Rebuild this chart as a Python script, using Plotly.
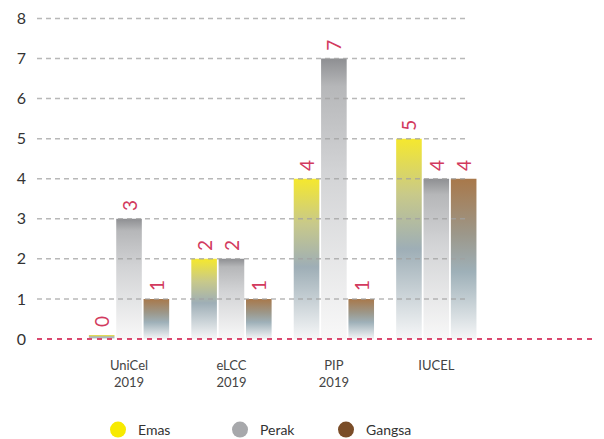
import plotly.graph_objects as go

# --- data ---
categories = ["UniCel<br>2019", "eLCC<br>2019", "PIP<br>2019", "IUCEL"]
series_names = ["Emas", "Perak", "Gangsa"]
emas = [0, 2, 4, 5]
perak = [3, 2, 7, 4]
gangsa = [1, 1, 1, 4]
y_ticks = [0, 1, 2, 3, 4, 5, 6, 7, 8]

# --- styling ---
legend_colors = {"Emas": "#f7ea00", "Perak": "#a7a8ab", "Gangsa": "#7a4d28"}
gradients = {
    "Emas": [[0, "#f6f7f8"], [0.45, "#9eaeb6"], [0.72, "#c8c98a"], [1, "#f5e82e"]],
    "Perak": [[0, "#f8f8f8"], [0.6, "#d2d3d5"], [0.9, "#b6b7b9"], [1, "#8e8f92"]],
    "Gangsa": [[0, "#f5f6f7"], [0.42, "#9eb0b8"], [0.65, "#9c988b"], [1, "#a8784a"]],
}
label_color = "#d23a5e"
font_family = "Lato, 'Open Sans', sans-serif"

# the page body adds an 8px margin, so the layout is shifted up/left by that much
PAGE_PAD = 8
H = 439

XMIN, XMAX = -0.8985, 4.7153
GRID_END = 3.29
BAR_W = 0.25
OFFSETS = {"Emas": -0.267, "Perak": 0.0, "Gangsa": 0.267}
MIN_VIS = 0.1  # a zero bar is still drawn as a thin strip

fig = go.Figure()

data = {"Emas": emas, "Perak": perak, "Gangsa": gangsa}
for name in series_names:
    vals = data[name]
    for i, v in enumerate(vals):
        h = max(v, MIN_VIS)
        xc = i + OFFSETS[name]
        x0, x1 = xc - BAR_W / 2, xc + BAR_W / 2
        fig.add_trace(go.Scatter(
            x=[x0, x1, x1, x0, x0], y=[0, 0, h, h, 0],
            mode="lines", fill="toself", line=dict(width=0),
            fillgradient=dict(type="vertical", colorscale=gradients[name]),
            hoverinfo="skip", showlegend=False,
        ))
    # transparent bars carry the rotated value labels
    fig.add_trace(go.Bar(
        x=list(range(len(vals))), y=[max(v, MIN_VIS) for v in vals],
        width=BAR_W, offset=OFFSETS[name] - BAR_W / 2,
        marker=dict(color="rgba(0,0,0,0)", line=dict(width=0)),
        text=["\u00a0" + str(v) for v in vals], textposition="outside", textangle=-90,
        textfont=dict(color=label_color, size=19, family=font_family),
        cliponaxis=False, showlegend=False, hoverinfo="skip",
    ))

# legend entries, one legend per item so they can be spaced like the original
legend_x = {"Emas": 90, "Perak": 212, "Gangsa": 318}
legend_keys = {"Emas": "legend", "Perak": "legend2", "Gangsa": "legend3"}
for name in series_names:
    fig.add_trace(go.Scatter(
        x=[None], y=[None], mode="markers", name=name,
        marker=dict(color=legend_colors[name], size=16, symbol="circle"),
        legend=legend_keys[name], showlegend=True,
    ))

legend_common = dict(
    orientation="h", xref="container", yref="container", yanchor="middle",
    y=(H - (430 - PAGE_PAD)) / H, bgcolor="rgba(0,0,0,0)",
    font=dict(size=14, color="#333333", family=font_family),
)

shapes = []
for t in y_ticks[1:]:
    shapes.append(dict(type="line", xref="x", yref="y", x0=XMIN, x1=GRID_END, y0=t, y1=t,
                       line=dict(color="rgba(160,160,160,0.75)", width=1.5, dash="5px,4px"),
                       layer="above"))
shapes.append(dict(type="line", xref="paper", yref="y", x0=0, x1=1, y0=0, y1=0,
                   line=dict(color="#d9486e", width=2, dash="5px,5px"), layer="above"))

fig.update_layout(
    width=604, height=H,
    margin=dict(l=37 - PAGE_PAD, r=0, t=8 - PAGE_PAD, b=H - (342 - PAGE_PAD)),
    plot_bgcolor="white", paper_bgcolor="white",
    barmode="overlay",
    font=dict(family=font_family, color="#333333"),
    xaxis=dict(range=[XMIN, XMAX], tickvals=list(range(len(categories))), ticktext=categories,
               showgrid=False, zeroline=False, showline=False, ticks="",
               tickfont=dict(size=13, color="#444444"), ticklabelstandoff=14),
    yaxis=dict(range=[-0.075, 8.262], tickvals=y_ticks, showgrid=False, zeroline=False,
               showline=False, ticks="", tickfont=dict(size=16, color="#333333"),
               ticklabelstandoff=10),
    shapes=shapes,
    legend=dict(x=legend_x["Emas"] / 604, **legend_common),
    legend2=dict(x=legend_x["Perak"] / 604, **legend_common),
    legend3=dict(x=legend_x["Gangsa"] / 604, **legend_common),
)

fig.write_html("out.html")
